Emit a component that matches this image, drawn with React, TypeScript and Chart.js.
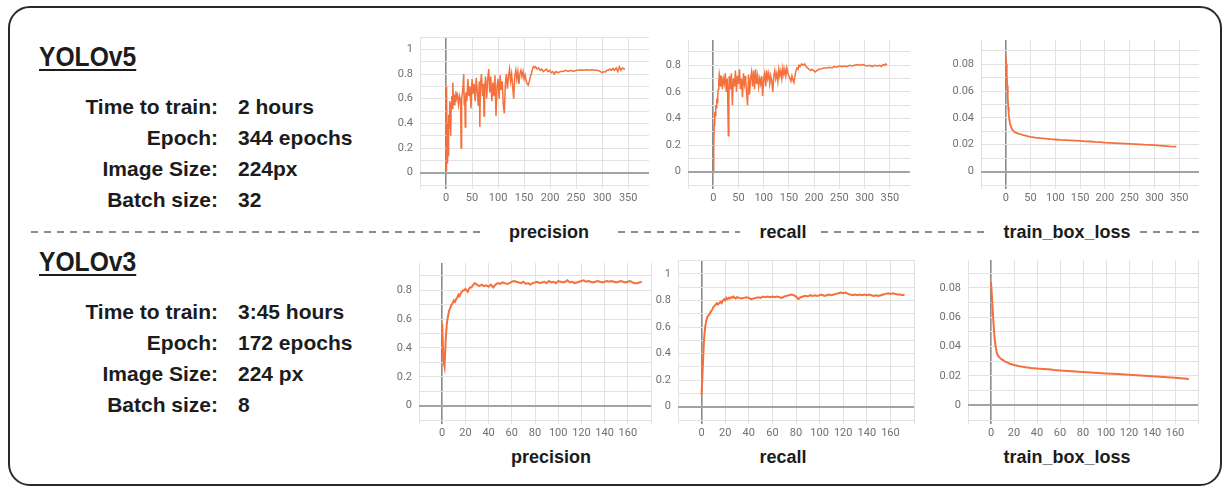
import React, { useEffect, useRef } from 'react';
import { Chart, registerables } from 'chart.js';

Chart.register(...registerables);

// ---------------- DATA ----------------
const infoLabels = ['Time to train:', 'Epoch:', 'Image Size:', 'Batch size:'];
const v5InfoValues = ['2 hours', '344 epochs', '224px', '32'];
const v3InfoValues = ['3:45 hours', '172 epochs', '224 px', '8'];
const metricNames = ['precision', 'recall', 'train_box_loss'];

const v5PrecisionEpochs = [0,1,2,3,4,5,6,7,8,9,10,11,12,13,14,15,16,17,18,19,20,22,24,26,28,29,30,32,34,35,36,37,38,40,42,44,46,48,50,52,54,56,58,60,62,64,65,66,68,70,72,73,74,76,78,80,82,84,86,88,90,92,94,96,98,100,102,104,106,108,110,112,114,116,118,120,122,124,126,128,130,132,134,136,138,140,142,144,146,148,150,152,154,156,158,160,162,164,166,168,170,172,175,178,181,184,187,190,193,196,199,202,205,208,211,215,220,225,230,235,240,245,250,255,260,265,270,275,280,285,290,295,300,303,306,309,312,315,318,321,324,327,330,333,336,339,342,344];
const v5PrecisionValues = [0.02,0.70,0.08,0.40,0.14,0.47,0.36,0.58,0.45,0.30,0.56,0.62,0.52,0.73,0.60,0.64,0.55,0.63,0.58,0.66,0.60,0.63,0.55,0.62,0.58,0.20,0.60,0.66,0.80,0.55,0.62,0.37,0.65,0.58,0.76,0.62,0.70,0.52,0.76,0.64,0.72,0.58,0.77,0.66,0.54,0.74,0.37,0.70,0.80,0.62,0.72,0.46,0.68,0.78,0.60,0.75,0.84,0.65,0.78,0.58,0.73,0.62,0.79,0.46,0.70,0.76,0.60,0.79,0.67,0.74,0.55,0.48,0.72,0.80,0.68,0.78,0.84,0.74,0.80,0.70,0.60,0.78,0.83,0.76,0.82,0.72,0.80,0.83,0.78,0.82,0.76,0.79,0.74,0.72,0.71,0.74,0.78,0.80,0.84,0.86,0.85,0.86,0.84,0.85,0.83,0.84,0.82,0.83,0.84,0.82,0.83,0.81,0.82,0.80,0.82,0.81,0.82,0.82,0.83,0.82,0.83,0.82,0.83,0.83,0.835,0.83,0.835,0.83,0.835,0.83,0.83,0.825,0.81,0.82,0.815,0.83,0.83,0.84,0.83,0.845,0.83,0.85,0.82,0.86,0.83,0.85,0.84,0.84];

const v5RecallEpochs = [0,1,2,3,4,5,6,7,8,9,10,11,12,13,14,16,18,20,22,24,26,28,30,31,32,34,36,38,40,42,44,46,48,50,52,54,56,58,60,62,64,66,68,70,72,74,76,78,80,82,84,86,88,90,92,94,96,98,100,102,104,106,108,110,112,114,116,118,120,122,124,126,128,130,132,134,136,138,140,142,144,146,148,150,152,154,156,158,160,162,164,166,168,170,172,175,178,181,184,187,190,193,196,199,202,205,210,215,220,225,230,235,240,245,250,255,260,265,270,275,280,285,290,295,300,305,310,315,320,325,330,333,336,339,342,344];
const v5RecallValues = [0.01,0.20,0.35,0.45,0.42,0.50,0.48,0.55,0.52,0.58,0.62,0.68,0.73,0.70,0.64,0.72,0.62,0.70,0.66,0.74,0.60,0.70,0.27,0.55,0.72,0.62,0.74,0.50,0.70,0.64,0.76,0.60,0.72,0.66,0.77,0.62,0.70,0.56,0.74,0.66,0.72,0.60,0.50,0.73,0.58,0.70,0.75,0.64,0.76,0.62,0.77,0.66,0.72,0.64,0.70,0.66,0.72,0.57,0.70,0.74,0.64,0.76,0.70,0.74,0.66,0.72,0.68,0.60,0.72,0.76,0.70,0.74,0.68,0.77,0.72,0.76,0.70,0.78,0.73,0.77,0.72,0.78,0.74,0.72,0.70,0.68,0.72,0.69,0.67,0.72,0.76,0.78,0.77,0.80,0.79,0.81,0.80,0.81,0.79,0.78,0.77,0.76,0.77,0.76,0.75,0.76,0.77,0.775,0.78,0.78,0.785,0.78,0.79,0.785,0.795,0.79,0.795,0.79,0.80,0.795,0.80,0.805,0.80,0.805,0.80,0.795,0.80,0.79,0.80,0.795,0.80,0.79,0.805,0.80,0.81,0.80];

const v5LossEpochs = [0,1,2,3,4,5,6,7,8,9,10,12,14,16,18,20,25,30,35,40,45,50,60,70,80,90,100,110,120,130,140,150,160,170,180,190,200,210,220,230,240,250,260,270,280,290,300,310,320,330,340,344];
const v5LossValues = [0.086,0.080,0.072,0.064,0.055,0.048,0.043,0.039,0.037,0.035,0.034,0.032,0.031,0.030,0.0295,0.029,0.0283,0.0278,0.0272,0.0268,0.0262,0.0258,0.0253,0.0249,0.0246,0.0242,0.0239,0.0236,0.0234,0.0232,0.0230,0.0228,0.0225,0.0224,0.0221,0.0219,0.0216,0.0214,0.0212,0.0210,0.0208,0.0206,0.0204,0.0202,0.0200,0.0199,0.0197,0.0194,0.0191,0.0188,0.0186,0.0186];

const v3Epochs = [0,1,2,3,4,5,6,7,8,9,10,11,12,13,14,15,16,17,18,19,20,21,22,23,24,25,26,27,28,29,30,32,34,36,38,40,42,44,46,48,50,52,54,56,58,60,62,64,66,68,70,72,74,76,78,80,82,84,86,88,90,92,94,96,98,100,102,104,106,108,110,112,114,116,118,120,122,124,126,128,130,132,134,136,138,140,142,144,146,148,150,152,154,156,158,160,162,164,166,168,170,172];
const v3PrecisionValues = [0.57,0.31,0.27,0.45,0.57,0.62,0.66,0.68,0.70,0.71,0.73,0.72,0.74,0.75,0.77,0.76,0.78,0.79,0.80,0.80,0.81,0.80,0.79,0.81,0.82,0.82,0.83,0.84,0.85,0.845,0.84,0.83,0.84,0.83,0.835,0.825,0.84,0.82,0.84,0.85,0.845,0.855,0.85,0.845,0.85,0.86,0.865,0.86,0.855,0.85,0.86,0.845,0.85,0.84,0.85,0.855,0.86,0.85,0.855,0.86,0.85,0.865,0.855,0.86,0.85,0.865,0.86,0.855,0.86,0.87,0.855,0.86,0.85,0.855,0.86,0.865,0.87,0.86,0.865,0.86,0.855,0.86,0.865,0.86,0.855,0.86,0.865,0.86,0.865,0.86,0.855,0.86,0.865,0.86,0.855,0.86,0.865,0.855,0.85,0.85,0.855,0.86];
const v3RecallValues = [0.09,0.30,0.50,0.60,0.65,0.68,0.69,0.70,0.72,0.73,0.75,0.76,0.77,0.78,0.77,0.78,0.79,0.78,0.80,0.81,0.80,0.82,0.81,0.82,0.815,0.825,0.82,0.83,0.82,0.815,0.825,0.82,0.815,0.82,0.825,0.82,0.81,0.815,0.82,0.825,0.82,0.83,0.825,0.83,0.825,0.83,0.825,0.83,0.825,0.82,0.83,0.835,0.84,0.845,0.84,0.83,0.81,0.825,0.83,0.835,0.83,0.84,0.835,0.84,0.835,0.84,0.845,0.835,0.84,0.845,0.84,0.845,0.85,0.855,0.86,0.855,0.86,0.85,0.845,0.84,0.845,0.84,0.845,0.84,0.845,0.84,0.845,0.84,0.835,0.84,0.835,0.84,0.845,0.85,0.855,0.85,0.855,0.85,0.845,0.845,0.84,0.845];

const v3LossEpochs = [0,1,2,3,4,5,6,7,8,10,12,14,16,18,20,25,30,35,40,45,50,55,60,70,80,90,100,110,120,130,140,150,160,170,172];
const v3LossValues = [0.084,0.072,0.058,0.047,0.040,0.036,0.034,0.033,0.032,0.031,0.030,0.0292,0.0285,0.0280,0.0275,0.0266,0.0260,0.0255,0.0251,0.0248,0.0245,0.0241,0.0238,0.0232,0.0227,0.0222,0.0217,0.0213,0.0208,0.0203,0.0198,0.0193,0.0188,0.0181,0.0178];

// ---------------- LAYOUT ----------------
const FONT = "'Liberation Sans', Arial, Helvetica, sans-serif";
const TEXT_COLOR = '#1c1c1c';
const LINE_COLOR = '#f4703c';

const YW = 40;
const PT = 10;
const PR = 4;
const XH = 30;

type Spec = {
  epochs: number[];
  values: number[];
  xMin: number; xMax: number; xStep: number; xLabelMax: number;
  yMin: number; yMax: number; yStep: number; decimals: number;
  L: number; R: number; T: number; B: number;
  lw: number;
};

function MiniChart({ s, z }: { s: Spec; z: number }) {
  const ref = useRef<HTMLCanvasElement>(null);
  const w = Math.round(s.R - s.L + YW + PR);
  const h = Math.round(s.B - s.T + PT + XH);
  useEffect(() => {
    const ctx = ref.current!;
    const tickFont = { family: 'Roboto, Arial, sans-serif', size: 11 };
    const chart = new Chart(ctx, {
      type: 'line',
      data: {
        datasets: [{
          data: s.epochs.map((e, i) => ({ x: e, y: s.values[i] })),
          borderColor: LINE_COLOR,
          borderWidth: s.lw,
          pointRadius: 0,
          tension: 0,
          fill: false,
        }],
      },
      options: {
        responsive: false,
        animation: false,
        layout: { padding: { top: PT, right: PR, left: 0, bottom: 0 } },
        plugins: { legend: { display: false }, tooltip: { enabled: false }, title: { display: false } },
        scales: {
          x: {
            type: 'linear',
            min: s.xMin, max: s.xMax,
            afterFit: (sc: any) => { sc.height = XH; },
            afterBuildTicks: (sc: any) => {
              const t: any[] = [];
              for (let v = s.xMin; v <= s.xMax + 1e-9; v += s.xStep) t.push({ value: v });
              sc.ticks = t;
            },
            border: { display: false },
            grid: {
              color: (c: any) => (c.tick && c.tick.value === 0 ? '#8a8a8a' : '#e2e2e2'),
              lineWidth: (c: any) => (c.tick && c.tick.value === 0 ? 1.6 : 1),
              drawTicks: true,
              tickLength: 4,
            },
            ticks: {
              autoSkip: false,
              maxRotation: 0,
              padding: 3,
              color: '#707070',
              font: tickFont,
              callback: (v: any) => (v < 0 || v > s.xLabelMax ? '' : String(v)),
            },
          },
          y: {
            type: 'linear',
            min: s.yMin, max: s.yMax,
            afterFit: (sc: any) => { sc.width = YW; },
            afterBuildTicks: (sc: any) => {
              const t: any[] = [];
              const k0 = Math.round(s.yMin / s.yStep);
              for (let k = k0; k * s.yStep <= s.yMax + 1e-9; k++) {
                t.push({ value: parseFloat((k * s.yStep).toFixed(4)) });
              }
              sc.ticks = t;
            },
            border: { display: false },
            grid: {
              color: (c: any) => (c.tick && Math.abs(c.tick.value) < 1e-9 ? '#a3a3a3' : '#e2e2e2'),
              lineWidth: (c: any) => (c.tick && Math.abs(c.tick.value) < 1e-9 ? 2 : 1),
              drawTicks: true,
              tickLength: 7,
              tickColor: 'rgba(0,0,0,0)',
            },
            ticks: {
              autoSkip: false,
              padding: 0,
              color: '#707070',
              font: tickFont,
              callback: (v: any) => {
                const k = Math.round(v / s.yStep);
                if (k < 0 || k % 2 !== 0) return '';
                return String(parseFloat((k * s.yStep).toFixed(s.decimals)));
              },
            },
          },
        },
      },
    } as any);
    return () => chart.destroy();
  }, []);
  return (
    <canvas
      ref={ref}
      width={w}
      height={h}
      style={{
        position: 'absolute', left: Math.round(s.L - YW), top: Math.round(s.T - PT),
        width: w, height: h, zIndex: z, background: 'transparent',
      }}
    />
  );
}

const specs: Spec[] = [
  { epochs: v5PrecisionEpochs, values: v5PrecisionValues, xMin: -50, xMax: 390, xStep: 50, xLabelMax: 350,
    yMin: -0.1, yMax: 1.1, yStep: 0.1, decimals: 1, L: 420, R: 649, T: 37, B: 185, lw: 1.5 },
  { epochs: v5RecallEpochs, values: v5RecallValues, xMin: -50, xMax: 390, xStep: 50, xLabelMax: 350,
    yMin: -0.1, yMax: 0.99, yStep: 0.1, decimals: 1, L: 688, R: 910, T: 40, B: 185, lw: 1.5 },
  { epochs: v5LossEpochs, values: v5LossValues, xMin: -50, xMax: 390, xStep: 50, xLabelMax: 350,
    yMin: -0.01, yMax: 0.098, yStep: 0.01, decimals: 2, L: 981, R: 1199, T: 40, B: 185, lw: 1.8 },
  { epochs: v3Epochs, values: v3PrecisionValues, xMin: -20, xMax: 180, xStep: 20, xLabelMax: 160,
    yMin: -0.1, yMax: 0.99, yStep: 0.1, decimals: 1, L: 419, R: 651, T: 263, B: 420, lw: 2 },
  { epochs: v3Epochs, values: v3RecallValues, xMin: -20, xMax: 180, xStep: 20, xLabelMax: 160,
    yMin: -0.1, yMax: 1.105, yStep: 0.1, decimals: 1, L: 678, R: 914, T: 260, B: 420, lw: 2 },
  { epochs: v3LossEpochs, values: v3LossValues, xMin: -20, xMax: 180, xStep: 20, xLabelMax: 160,
    yMin: -0.01, yMax: 0.099, yStep: 0.01, decimals: 2, L: 968, R: 1198, T: 260, B: 420, lw: 2 },
];

function Title({ text, baseline }: { text: string; baseline: number }) {
  return (
    <div style={{
      position: 'absolute', left: 39, top: baseline - 23.7, fontSize: 28, lineHeight: '28px',
      fontWeight: 700, fontFamily: FONT, color: TEXT_COLOR, whiteSpace: 'nowrap',
      transform: 'scaleX(0.88)', transformOrigin: 'left top',
      textDecoration: 'underline', textDecorationThickness: '2px', textUnderlineOffset: '3px',
    }}>{text}</div>
  );
}

function Info({ values, baselines }: { values: string[]; baselines: number[] }) {
  return (
    <>
      {infoLabels.map((lab, i) => (
        <React.Fragment key={i}>
          <div style={{
            position: 'absolute', left: 0, width: 218, top: baselines[i] - 17.8, textAlign: 'right',
            fontSize: 21, lineHeight: '21px', fontWeight: 700, fontFamily: FONT, color: TEXT_COLOR, whiteSpace: 'nowrap',
          }}>{lab}</div>
          <div style={{
            position: 'absolute', left: 238, top: baselines[i] - 17.8,
            fontSize: 21, lineHeight: '21px', fontWeight: 700, fontFamily: FONT, color: TEXT_COLOR, whiteSpace: 'nowrap',
          }}>{values[i]}</div>
        </React.Fragment>
      ))}
    </>
  );
}

function Caption({ text, cx, baseline }: { text: string; cx: number; baseline: number }) {
  return (
    <div style={{
      position: 'absolute', left: cx - 100, width: 200, top: baseline - 15.2, textAlign: 'center',
      fontSize: 18, lineHeight: '18px', fontWeight: 700, fontFamily: FONT, color: TEXT_COLOR, whiteSpace: 'nowrap',
    }}>{text}</div>
  );
}

const dashSegments = [[31, 483], [618, 740], [821, 986], [1140, 1203]];

export default function App() {
  return (
    <div style={{ position: 'absolute', left: 0, top: 0, width: 1229, height: 489, background: '#fff', overflow: 'hidden' }}>
      <div style={{
        position: 'absolute', left: 8, top: 6, width: 1210, height: 476,
        border: '2px solid #2a2a2a', borderRadius: 22,
      }} />
      <svg width={1229} height={489} style={{ position: 'absolute', left: 0, top: 0 }}>
        {dashSegments.map(([a, b], i) => (
          <line key={i} x1={a} y1={232} x2={b} y2={232} stroke="#8c8c8c" strokeWidth={2} strokeDasharray="7 6" />
        ))}
      </svg>
      <Title text="YOLOv5" baseline={67} />
      <Title text="YOLOv3" baseline={272} />
      <Info values={v5InfoValues} baselines={[114, 145, 176, 207]} />
      <Info values={v3InfoValues} baselines={[319, 350, 381, 412]} />
      {specs.map((s, i) => <MiniChart key={i} s={s} z={1 + i} />)}
      <Caption text={metricNames[0]} cx={549} baseline={238} />
      <Caption text={metricNames[1]} cx={783} baseline={238} />
      <Caption text={metricNames[2]} cx={1067} baseline={238} />
      <Caption text={metricNames[0]} cx={551} baseline={463} />
      <Caption text={metricNames[1]} cx={783} baseline={463} />
      <Caption text={metricNames[2]} cx={1067} baseline={463} />
    </div>
  );
}
